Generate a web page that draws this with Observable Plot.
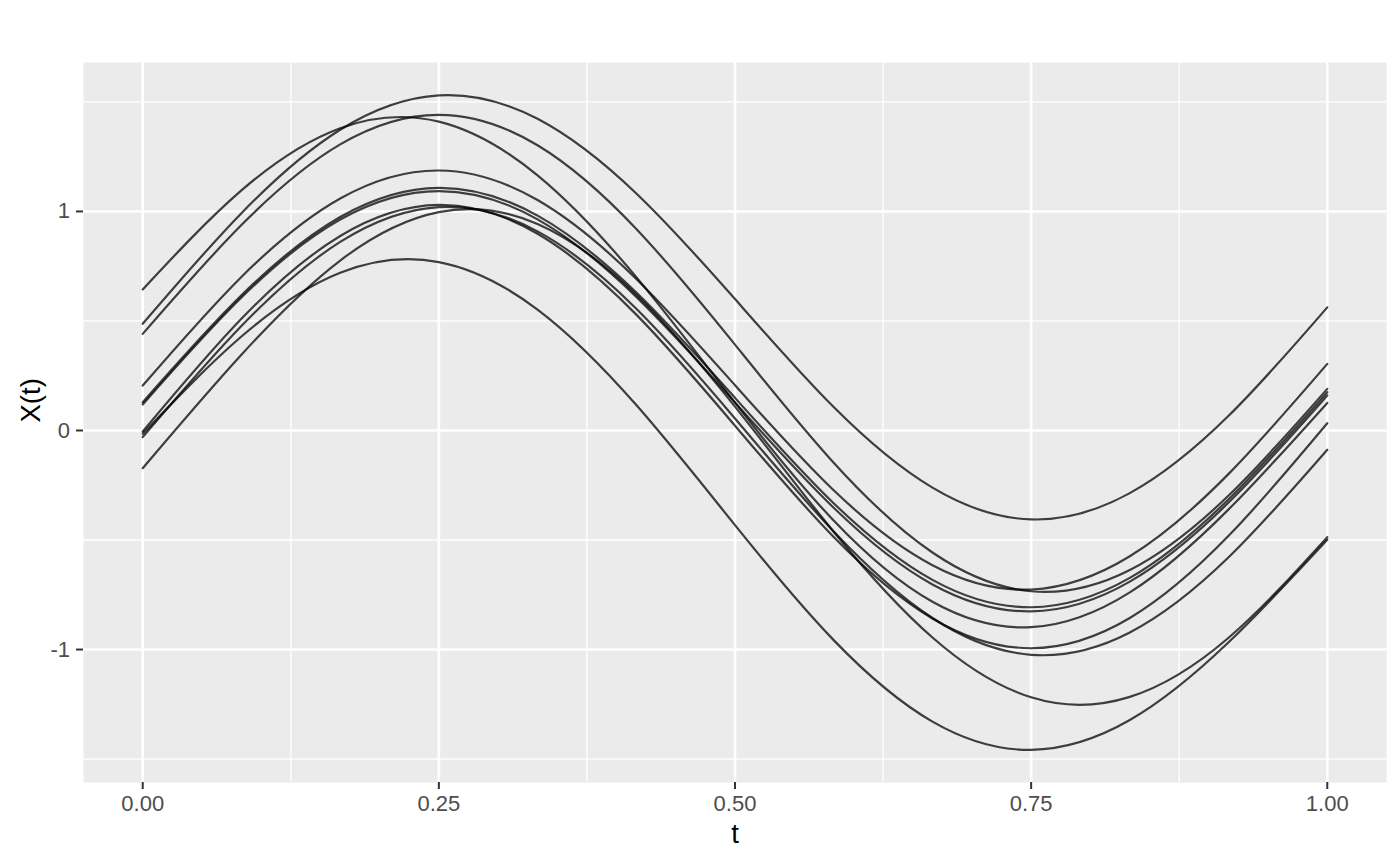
<!DOCTYPE html>
<html>
<head>
<meta charset="utf-8">
<script src="https://cdn.jsdelivr.net/npm/d3@7"></script>
<script src="https://cdn.jsdelivr.net/npm/@observablehq/plot@0.6"></script>
<style>
  html, body { margin: 0; padding: 0; background: #ffffff; }
</style>
</head>
<body>
<div id="chart"></div>
<script>
// Sample positions along t
const tGrid = [0, 0.0833, 0.1667, 0.25, 0.3333, 0.4167, 0.5, 0.5833, 0.6667, 0.75, 0.8333, 0.9167, 1];

// Curve values X(t)
const curve01 = [0.487, 0.992, 1.373, 1.530, 1.423, 1.082, 0.600, 0.107, -0.261, -0.406, -0.286, 0.067, 0.562];
const curve02 = [0.441, 0.938, 1.306, 1.441, 1.302, 0.920, 0.392, -0.147, -0.557, -0.734, -0.637, -0.297, 0.190];
const curve03 = [0.644, 1.096, 1.380, 1.410, 1.165, 0.700, 0.127, -0.411, -0.782, -0.898, -0.739, -0.360, 0.126];
const curve04 = [0.205, 0.701, 1.059, 1.187, 1.052, 0.692, 0.207, -0.273, -0.615, -0.726, -0.574, -0.198, 0.304];
const curve05 = [0.129, 0.617, 0.975, 1.108, 0.981, 0.630, 0.149, -0.332, -0.682, -0.807, -0.673, -0.314, 0.175];
const curve06 = [0.119, 0.607, 0.963, 1.093, 0.964, 0.610, 0.128, -0.353, -0.703, -0.826, -0.690, -0.329, 0.160];
const curve07 = [-0.005, 0.510, 0.888, 1.030, 0.898, 0.529, 0.022, -0.486, -0.858, -0.994, -0.856, -0.481, 0.033];
const curve08 = [-0.030, 0.477, 0.861, 1.020, 0.909, 0.556, 0.055, -0.461, -0.856, -1.024, -0.922, -0.579, -0.088];
const curve09 = [-0.172, 0.346, 0.776, 0.997, 0.943, 0.620, 0.109, -0.462, -0.945, -1.218, -1.216, -0.946, -0.487];
const curve10 = [-0.015, 0.429, 0.720, 0.769, 0.552, 0.116, -0.432, -0.957, -1.329, -1.458, -1.322, -0.967, -0.499];

// Axis ticks and labels
const xTicks = [0, 0.25, 0.5, 0.75, 1];
const xTickLabels = ["0.00", "0.25", "0.50", "0.75", "1.00"];
const xMinor = [0.125, 0.375, 0.625, 0.875];
const yTicks = [-1, 0, 1];
const yTickLabels = ["-1", "0", "1"];
const yMinor = [-1.5, -0.5, 0.5, 1.5];
const xTitle = "t";
const yTitle = "X(t)";

const curves = [curve01, curve02, curve03, curve04, curve05, curve06, curve07, curve08, curve09, curve10];
const data = curves.flatMap((vals, i) => vals.map((v, j) => ({id: i + 1, t: tGrid[j], value: v})));

const font = "'Liberation Sans', Arial, Helvetica, sans-serif";

const plot = Plot.plot({
  width: 1400,
  height: 866,
  marginLeft: 83,
  marginRight: 14,
  marginTop: 62,
  marginBottom: 84,
  style: {fontFamily: font, fontSize: "22px", background: "#ffffff", overflow: "visible"},
  x: {domain: [-0.05, 1.05]},
  y: {domain: [-1.607, 1.68]},
  marks: [
    Plot.frame({fill: "#EBEBEB", stroke: "none"}),
    Plot.gridX(xMinor, {stroke: "#ffffff", strokeOpacity: 1, strokeWidth: 1.3}),
    Plot.gridY(yMinor, {stroke: "#ffffff", strokeOpacity: 1, strokeWidth: 1.3}),
    Plot.gridX(xTicks, {stroke: "#ffffff", strokeOpacity: 1, strokeWidth: 2.6}),
    Plot.gridY(yTicks, {stroke: "#ffffff", strokeOpacity: 1, strokeWidth: 2.6}),
    Plot.line(data, {x: "t", y: "value", z: "id", stroke: "#000000", strokeOpacity: 0.74, strokeWidth: 2.2, curve: "natural"}),
    Plot.axisX({ticks: xTicks, tickFormat: d => xTickLabels[xTicks.indexOf(d)], tickSize: 7, tickPadding: 5.5,
      stroke: "#333333", fill: "#4D4D4D", strokeWidth: 2, fontSize: 22, label: null}),
    Plot.axisY({ticks: yTicks, tickFormat: d => yTickLabels[yTicks.indexOf(d)], tickSize: 7, tickPadding: 6.5,
      stroke: "#333333", fill: "#4D4D4D", strokeWidth: 2, fontSize: 22, label: null}),
    Plot.text([xTitle], {text: d => d, frameAnchor: "bottom", dy: 60, fontSize: 27.5, fill: "#000000"}),
    Plot.text([yTitle], {text: d => d, frameAnchor: "left", dx: -52, rotate: -90, fontSize: 27.5, fill: "#000000"})
  ]
});

document.getElementById("chart").appendChild(plot);
</script>
</body>
</html>
